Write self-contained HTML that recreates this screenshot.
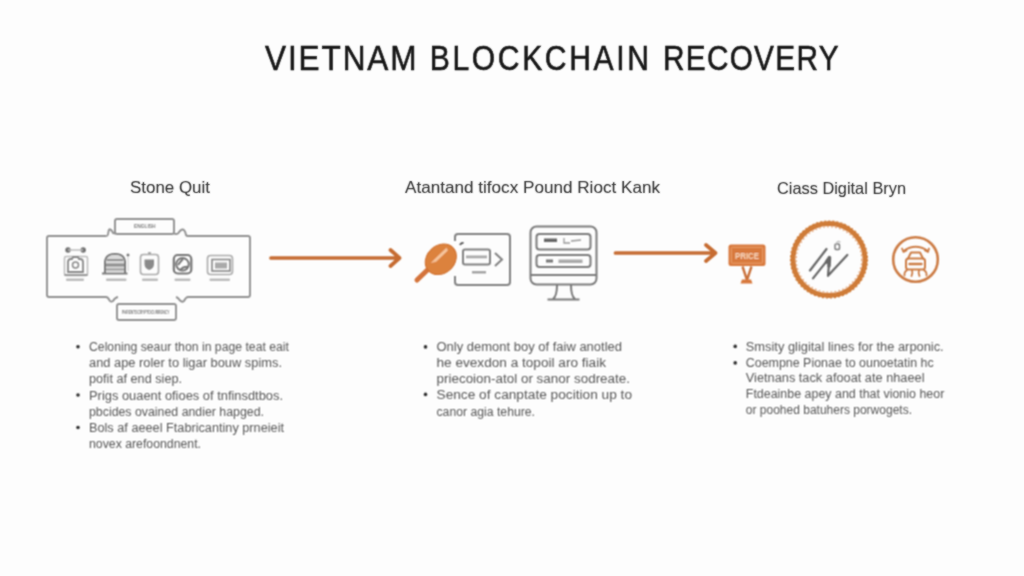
<!DOCTYPE html>
<html><head><meta charset="utf-8">
<style>
html,body{margin:0;padding:0;background:#fdfdfd;}
body{width:1024px;height:576px;overflow:hidden;font-family:"Liberation Sans",sans-serif;}
svg{display:block;}
</style></head>
<body>
<svg width="1024" height="576" viewBox="0 0 1024 576" font-family="Liberation Sans, sans-serif">
<defs>
<filter id="bl" x="-10%" y="-30%" width="120%" height="160%"><feConvolveMatrix order="3" kernelMatrix="1 2 1 2 4 2 1 2 1" divisor="16" edgeMode="none"/></filter>
<filter id="bx" x="-10%" y="-30%" width="120%" height="160%"><feConvolveMatrix order="3" kernelMatrix="1 2 1 2 4 2 1 2 1" divisor="16" edgeMode="none"/></filter>
<filter id="bt" x="-10%" y="-30%" width="120%" height="160%"><feConvolveMatrix order="3" kernelMatrix="1 2 1 2 12 2 1 2 1" divisor="24" edgeMode="none"/></filter>
</defs>
<rect width="1024" height="576" fill="#fdfdfd"/>

<!-- TITLE -->
<g font-size="35" fill="#161616" stroke="#161616" stroke-width="0.55" filter="url(#bt)">
<text transform="scale(0.9,1)" x="294.44" y="70.3" textLength="168.33" lengthAdjust="spacing">VIETNAM</text>
<text transform="scale(0.86,1)" x="499.65" y="70.3" textLength="255.00" lengthAdjust="spacing">BLOCKCHAIN</text>
<text transform="scale(0.85,1)" x="780.00" y="70.3" textLength="206.47" lengthAdjust="spacing">RECOVERY</text>
</g>

<!-- HEADINGS -->
<g fill="#333" stroke="#333" stroke-width="0.08" font-size="16.5" filter="url(#bt)">
<text x="130" y="193.3" font-size="17.2" textLength="80" lengthAdjust="spacingAndGlyphs">Stone Quit</text>
<text x="405" y="193" textLength="255" lengthAdjust="spacingAndGlyphs">Atantand tifocx Pound Rioct Kank</text>
<text x="777" y="193.5" textLength="129" lengthAdjust="spacingAndGlyphs">Ciass Digital Bryn</text>
</g>

<!-- LEFT FRAME -->
<g fill="none" stroke="#909090" stroke-width="1.9" stroke-linejoin="round" filter="url(#bl)">
<path d="M106.5,236 L49,236 Q47,236 47,238 L47,295 Q47,297 49,297 L106,297"/>
<path d="M106.5,236 Q108,236 108.5,231.5 Q109,228.5 110.5,229.5 Q112.5,231 113,233 L115,233.5"/>
<path d="M174,233.5 Q176,234.5 178,233.5 Q181,229 183,229.5 Q185,230 186,235 Q186.5,236 188,236 L248,236 Q250,236 250,238 L250,295 Q250,297 248,297 L188,297 Q186,297 184,301 Q182,302.5 180,300.5 Q178,297.5 176,297"/>
<path d="M106,297 Q108,297 109.5,300.5 Q111,302.5 113,301 Q115,297.5 118,297"/>
<rect x="115" y="219" width="59" height="15" rx="2"/>
<rect x="117" y="304" width="59" height="16" rx="2"/>
</g>
<g fill="#8a8a8a" filter="url(#bl)">
<text x="134" y="228.3" font-size="5.2" font-weight="bold" fill="#7a7a7a" textLength="21.5" lengthAdjust="spacingAndGlyphs">ENGLISH</text>
<text x="122" y="314" font-size="5.6" font-weight="bold" fill="#7a7a7a" textLength="47.5" lengthAdjust="spacingAndGlyphs">PARENTSCRYPTOCURRENCY</text>
<!-- labels under icons -->
<rect x="66" y="278.6" width="18" height="2.4" rx="1" fill="#bbb"/>
<rect x="106" y="278.6" width="20.5" height="2.4" rx="1" fill="#bbb"/>
<rect x="142" y="278.6" width="16" height="2.4" rx="1" fill="#bbb"/>
<rect x="174.5" y="278.6" width="16" height="2.4" rx="1" fill="#bbb"/>
<rect x="209.5" y="278.6" width="20.5" height="2.4" rx="1" fill="#bbb"/>
</g>
<!-- icons -->
<g filter="url(#bl)">
<!-- icon1 -->
<circle cx="68" cy="250" r="2.7" fill="#6f6f6f"/><circle cx="83.2" cy="250" r="2.7" fill="#6f6f6f"/>
<line x1="68" y1="250" x2="83" y2="250" stroke="#bbb" stroke-width="1.5"/>
<rect x="64.5" y="256.5" width="23" height="19" rx="1.5" fill="none" stroke="#bbb" stroke-width="1.5"/>
<path d="M68,272 L68,262 Q68,259 71,259 L72,259 L73,257 L78,257 L79,259 L80,259 Q83,259 83,262 L83,272 Z" fill="none" stroke="#888" stroke-width="1.8"/>
<circle cx="75.5" cy="265" r="3" fill="none" stroke="#888" stroke-width="1.5"/>
<line x1="64.5" y1="275" x2="87.5" y2="275" stroke="#999" stroke-width="2"/>
<!-- icon2 -->
<path d="M105,273 L105,263 Q105,254 115,254 Q125,254 125,263 L125,273" fill="none" stroke="#7a7a7a" stroke-width="2"/>
<path d="M106,272 L106,263 Q106,255 115,255 Q124,255 124,263 L124,272 Z" fill="#dadada"/><rect x="106.5" y="259" width="17" height="2" fill="#8f8f8f"/><rect x="106" y="263.5" width="18" height="3" fill="#8f8f8f"/><rect x="106" y="268.5" width="18" height="1.8" fill="#999"/>
<line x1="102" y1="273.5" x2="127.5" y2="273.5" stroke="#7a7a7a" stroke-width="2"/>
<circle cx="128" cy="255" r="1.5" fill="#777"/>
<line x1="128" y1="257" x2="128" y2="271" stroke="#ccc" stroke-width="1"/>
<!-- icon3 -->
<rect x="140.5" y="254.5" width="18" height="20" rx="3" fill="none" stroke="#aaa" stroke-width="1.6"/>
<rect x="148" y="252" width="3" height="3" fill="#aaa"/>
<path d="M144.5,259.5 L154,259.5 L154,264 Q154,268.5 149.2,270 Q144.5,268.5 144.5,264 Z" fill="#8a8a8a"/>
<!-- icon4 -->
<rect x="173.8" y="255" width="17.5" height="18.5" rx="4" fill="none" stroke="#777" stroke-width="2.2"/>
<circle cx="182.5" cy="264.3" r="6.3" fill="none" stroke="#777" stroke-width="2"/><path d="M178,265 Q181,261 183,259 M180,270 Q184,266 188,267" fill="none" stroke="#777" stroke-width="2"/>
<!-- icon5 -->
<rect x="207.5" y="255.5" width="25" height="19" rx="3" fill="none" stroke="#aaa" stroke-width="1.6"/>
<rect x="212" y="259.5" width="18" height="11.5" fill="none" stroke="#888" stroke-width="1.6"/>
<rect x="215" y="262.5" width="12" height="6" fill="#aaa"/>
</g>

<!-- ARROWS -->
<g fill="none" stroke="#c66c32" stroke-width="3.7" stroke-linecap="round" stroke-linejoin="round" filter="url(#bl)">
<path d="M271,258 L399,258 M390.5,250 L399.5,258 L390.5,266"/>
<path d="M615.5,253 L715,253 M706,245 L715.5,253 L706,261"/>
</g>

<!-- MIDDLE: box -->
<g fill="none" stroke="#808080" stroke-width="2" filter="url(#bl)">
<path d="M455,241 L455,237 Q455,234 458,234 L507,234 Q510,234 510,237 L510,282 Q510,285 507,285 L458,285 Q455,285 455,282 L455,276"/>
<rect x="463" y="249.5" width="27" height="15" rx="2"/>
<path d="M495,253 L502,259.5 L495,266"/>
</g>
<g filter="url(#bl)">
<path d="M460,245 Q461,242.5 463.5,243" fill="none" stroke="#555" stroke-width="2"/>
<rect x="466" y="255.5" width="21" height="2.8" fill="#aaa"/>
<rect x="472" y="271.2" width="14" height="2.2" fill="#999"/>
</g>
<!-- monitor -->
<g fill="none" stroke="#7a7a7a" stroke-width="2" filter="url(#bl)">
<rect x="530.5" y="226.5" width="66" height="58" rx="6"/>
<line x1="531" y1="275" x2="596" y2="275"/>
<rect x="536.5" y="234" width="54" height="15.5" rx="3"/>
<rect x="536.5" y="255" width="54" height="12" rx="3"/>
<path d="M557,285 Q557,296 553,299 M571,285 Q571,296 575,299 M547.5,299.5 L579.5,299.5"/>
</g>
<g filter="url(#bl)">
<rect x="544" y="238.5" width="13" height="3.5" fill="#666"/>
<path d="M564,238 L564,243 L570,243 M571,241 L581,240" fill="none" stroke="#999" stroke-width="1.3"/>
<rect x="546" y="259.5" width="7" height="3" fill="#777"/>
<rect x="558.5" y="259.5" width="24" height="3.5" fill="#aaa"/>
</g>
<!-- leaf -->
<g filter="url(#bl)">
<line x1="417" y1="280" x2="429" y2="268.5" stroke="#d4733a" stroke-width="5" stroke-linecap="round"/>
<ellipse cx="440.8" cy="259.3" rx="16.8" ry="13.8" transform="rotate(-42 440.8 259.3)" fill="#dc823d" stroke="#d0702f" stroke-width="1"/>
<path d="M446.5,248 L431.5,262.5 L436,261.5 L447.5,250.5 Z" fill="#f6c8a0" stroke="#f2b88c" stroke-width="0.8" stroke-linejoin="round"/>
</g>

<!-- RIGHT: sign -->
<g filter="url(#bl)">
<rect x="728.5" y="244.5" width="37" height="21.5" rx="2.5" fill="#d8793c"/>
<rect x="731.3" y="247.3" width="31.4" height="15.9" rx="1" fill="none" stroke="#eca06a" stroke-width="1"/>
<text x="735" y="258.8" font-size="8.5" font-weight="bold" fill="#f8d8bd" textLength="24" lengthAdjust="spacingAndGlyphs">PRICE</text>
<path d="M742.5,266.5 L747,280 L751.5,266.5" fill="none" stroke="#c9703a" stroke-width="2.4" stroke-linejoin="round"/>
<path d="M740.5,283.5 L742,279.5 L751,279.5 L752.5,283.5 Z" fill="#d8793c"/>
</g>
<!-- big gear circle -->
<g filter="url(#bl)">
<circle cx="829" cy="259.5" r="36" fill="none" stroke="#cf7b37" stroke-width="4.9"/>
<circle cx="829" cy="259.5" r="38.5" fill="none" stroke="#cf7b37" stroke-width="1.2" stroke-dasharray="2 2.1"/>
<circle cx="829" cy="259.5" r="32.7" fill="none" stroke="#e3a070" stroke-width="1.1" stroke-dasharray="1.8 2.2"/>
</g>
<g fill="none" stroke="#666" stroke-width="2.2" stroke-linecap="round" stroke-linejoin="round" filter="url(#bl)">
<path d="M810,270.5 L826.5,249"/>
<path d="M813,278.4 L829.5,257.6 L828,275.8 L847.3,255"/>
<path d="M826.5,262 L829.5,257.6 L829,266" stroke-width="3.5"/>
<rect x="835" y="244" width="4.5" height="5.5" rx="1" stroke="#777" stroke-width="1.4"/>
<path d="M836,244 Q837.5,240 840,242" stroke="#bbb" stroke-width="1.2"/>
</g>
<!-- small circle -->
<g fill="none" stroke="#cc7c45" stroke-linecap="round" stroke-linejoin="round" filter="url(#bl)">
<circle cx="915.5" cy="259.5" r="22.3" stroke-width="2.6"/>
<path d="M903.5,251 Q915.5,242.5 928,251" stroke-width="1.8"/>
<path d="M902,248.5 L903.5,252 L906.5,250.5" stroke-width="1.8"/>
<path d="M929,248.5 L928,252 L925,250.5" stroke-width="1.8"/>
<path d="M908,258.5 L911,252.5 L920,252.5 L923,258.5" stroke-width="2"/>
<rect x="906" y="258.5" width="19" height="11" rx="2.5" stroke-width="2"/>
<line x1="909.5" y1="264" x2="921.5" y2="264" stroke-width="2.4"/>
<path d="M907,270 Q904,272 904.5,275.5 M912,270 Q913,273 911.5,276 M919,270 Q918,273 919.5,276 M924,270 Q927,272 926.5,275.5" stroke-width="1.8"/>
</g>

<!-- BULLETS -->
<g fill="#555" font-size="12.5" filter="url(#bx)">
<circle cx="78" cy="346.7" r="1.8" fill="#2e2e2e" stroke="none"/>
<circle cx="78" cy="395" r="1.8" fill="#2e2e2e" stroke="none"/>
<circle cx="78" cy="427.5" r="1.8" fill="#2e2e2e" stroke="none"/>
<text x="89" y="350.8" textLength="200" lengthAdjust="spacingAndGlyphs">Celoning seaur thon in page teat eait</text>
<text x="89" y="367.1" textLength="193" lengthAdjust="spacingAndGlyphs">and ape roler to ligar bouw spims.</text>
<text x="89" y="383.3" textLength="93" lengthAdjust="spacingAndGlyphs">pofit af end siep.</text>
<text x="89" y="399.5" textLength="194" lengthAdjust="spacingAndGlyphs">Prigs ouaent ofioes of tnfinsdtbos.</text>
<text x="89" y="415.7" textLength="175" lengthAdjust="spacingAndGlyphs">pbcides ovained andier hapged.</text>
<text x="89" y="431.9" textLength="195" lengthAdjust="spacingAndGlyphs">Bols af aeeel Ftabricantiny prneieit</text>
<text x="89" y="448.1" textLength="112" lengthAdjust="spacingAndGlyphs">novex arefoondnent.</text>

<circle cx="425.5" cy="346.9" r="1.8" fill="#2e2e2e" stroke="none"/>
<circle cx="425.5" cy="394.4" r="1.8" fill="#2e2e2e" stroke="none"/>
<text x="436.5" y="351.1" textLength="185.5" lengthAdjust="spacingAndGlyphs">Only demont boy of faiw anotled</text>
<text x="436.5" y="367.2" textLength="169.5" lengthAdjust="spacingAndGlyphs">he evexdon a topoil aro fiaik</text>
<text x="436.5" y="383.3" textLength="193.5" lengthAdjust="spacingAndGlyphs">priecoion-atol or sanor sodreate.</text>
<text x="436.5" y="399.4" textLength="195.5" lengthAdjust="spacingAndGlyphs">Sence of canptate pocition up to</text>
<text x="436.5" y="415.5" textLength="98.5" lengthAdjust="spacingAndGlyphs">canor agia tehure.</text>

<circle cx="735.2" cy="346.4" r="1.8" fill="#2e2e2e" stroke="none"/>
<circle cx="735.2" cy="362.9" r="1.8" fill="#2e2e2e" stroke="none"/>
<text x="745.8" y="350.5" textLength="197.9" lengthAdjust="spacingAndGlyphs">Smsity gligital lines for the arponic.</text>
<text x="745.8" y="366.8" textLength="187.9" lengthAdjust="spacingAndGlyphs">Coempne Pionae to ounoetatin hc</text>
<text x="745.8" y="382.3" textLength="178.7" lengthAdjust="spacingAndGlyphs">Vietnans tack afooat ate nhaeel</text>
<text x="745.8" y="398.2" textLength="198.5" lengthAdjust="spacingAndGlyphs">Ftdeainbe apey and that vionio heor</text>
<text x="745.8" y="414.3" textLength="166.2" lengthAdjust="spacingAndGlyphs">or poohed batuhers porwogets.</text>
</g>
</svg>
</body></html>
